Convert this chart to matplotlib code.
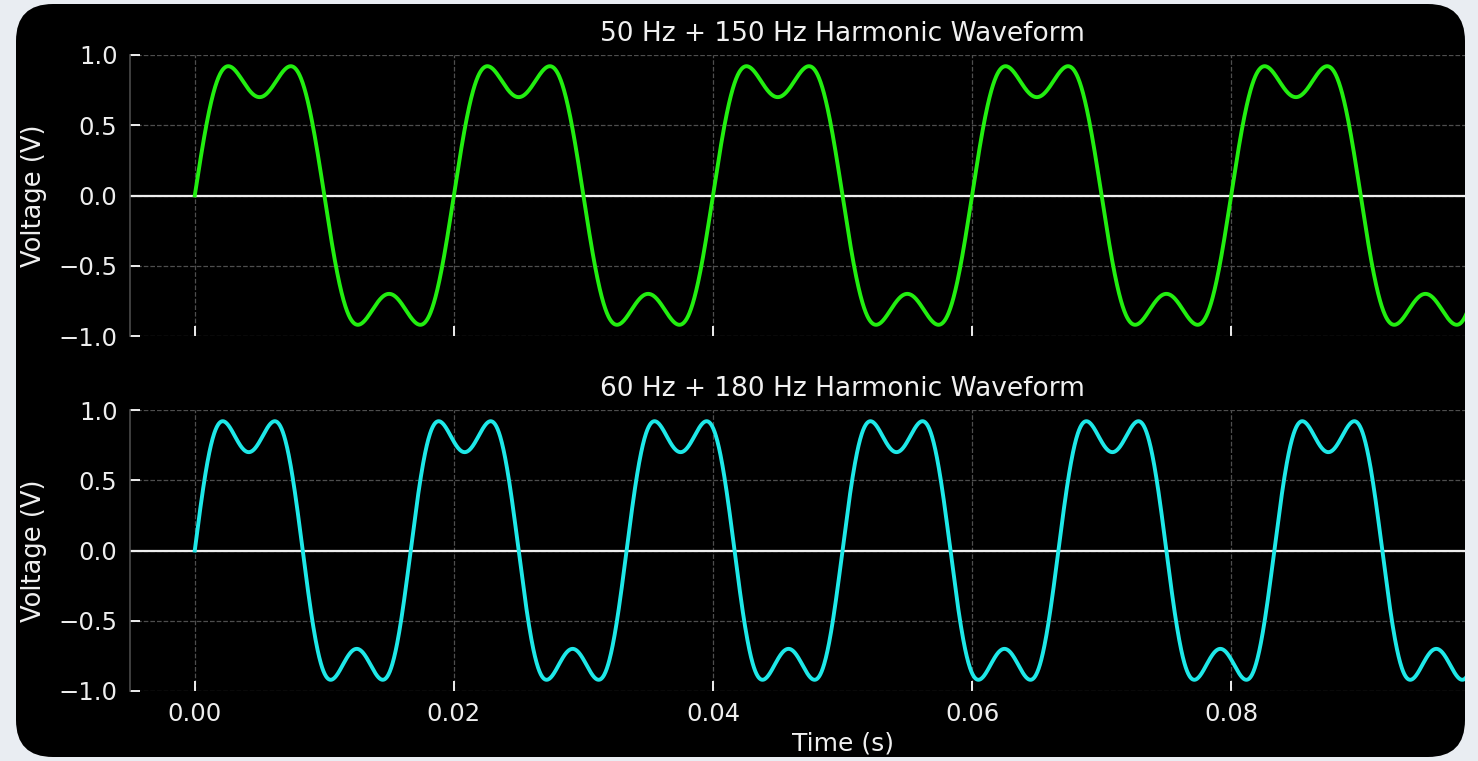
import matplotlib
matplotlib.use("Agg")
import matplotlib.pyplot as plt
from matplotlib.patches import FancyBboxPatch, Rectangle
import numpy as np

fundamentals = [50, 60]          # Hz
harmonic_order = 3               # third harmonic
harmonic_amp = 0.3               # relative amplitude of the harmonic
titles = ["50 Hz + 150 Hz Harmonic Waveform", "60 Hz + 180 Hz Harmonic Waveform"]
colors = ["#22ee10", "#1ee8e8"]
duration = 0.1                   # s
yticks = [-1.0, -0.5, 0.0, 0.5, 1.0]
xticks = [0.00, 0.02, 0.04, 0.06, 0.08, 0.10]

t = np.linspace(0, duration, 4000)

fig = plt.figure(figsize=(14.78, 7.61), dpi=100)
fig.patch.set_facecolor("#e9edf2")

# black rounded panel behind everything
panel = FancyBboxPatch((16 / 1478, 4 / 761), (1465 - 16) / 1478, (757 - 4) / 761,
                       boxstyle="round,pad=0,rounding_size=0.025",
                       transform=fig.transFigure, facecolor="black",
                       edgecolor="none", zorder=-10, mutation_aspect=1478 / 761)
fig.patches.append(panel)

left, right = 130 / 1478, 1555 / 1478
boxes = [(1 - 336 / 761, 1 - 55 / 761), (1 - 691 / 761, 1 - 410 / 761)]

axes = []
for i, (f0, title, col) in enumerate(zip(fundamentals, titles, colors)):
    b, tp = boxes[i]
    ax = fig.add_axes([left, b, right - left, tp - b])
    axes.append(ax)
    ax.set_facecolor("black")
    v = np.sin(2 * np.pi * f0 * t) + harmonic_amp * np.sin(2 * np.pi * harmonic_order * f0 * t)
    ax.plot(t, v, color=col, lw=2.8, zorder=3)
    ax.axhline(0, color="#eeeeee", lw=1.6, zorder=2)
    ax.set_ylim(-1.0, 1.0)
    ax.set_xlim(-0.005, 0.105)
    ax.set_yticks(yticks)
    ax.set_xticks(xticks)
    ax.grid(True, color="#4e4e4e", linestyle="--", linewidth=0.9)
    ax.set_title(title, color="#f0f0f0", fontsize=19, pad=10)
    ax.set_ylabel("Voltage (V)", color="#f0f0f0", fontsize=18.5, labelpad=8)
    ax.tick_params(colors="#eeeeee", labelsize=17.5, direction="in", length=7, width=1.4)
    ax.tick_params(axis="y", pad=9)
    ax.tick_params(axis="x", pad=8)
    for s in ["top", "bottom", "right"]:
        ax.spines[s].set_visible(False)
    ax.spines["left"].set_color("#4a4a4a")
    ax.spines["left"].set_linewidth(1.2)

axes[0].tick_params(labelbottom=False)
axes[1].set_xlabel("Time (s)", color="#f0f0f0", fontsize=18, labelpad=4)

# cover everything past the panel's right edge
fig.patches.append(Rectangle((1465 / 1478, 0), 1, 1, transform=fig.transFigure,
                             facecolor="#e9edf2", edgecolor="none", zorder=10))

fig.savefig("out.png", dpi=100, facecolor=fig.get_facecolor())
